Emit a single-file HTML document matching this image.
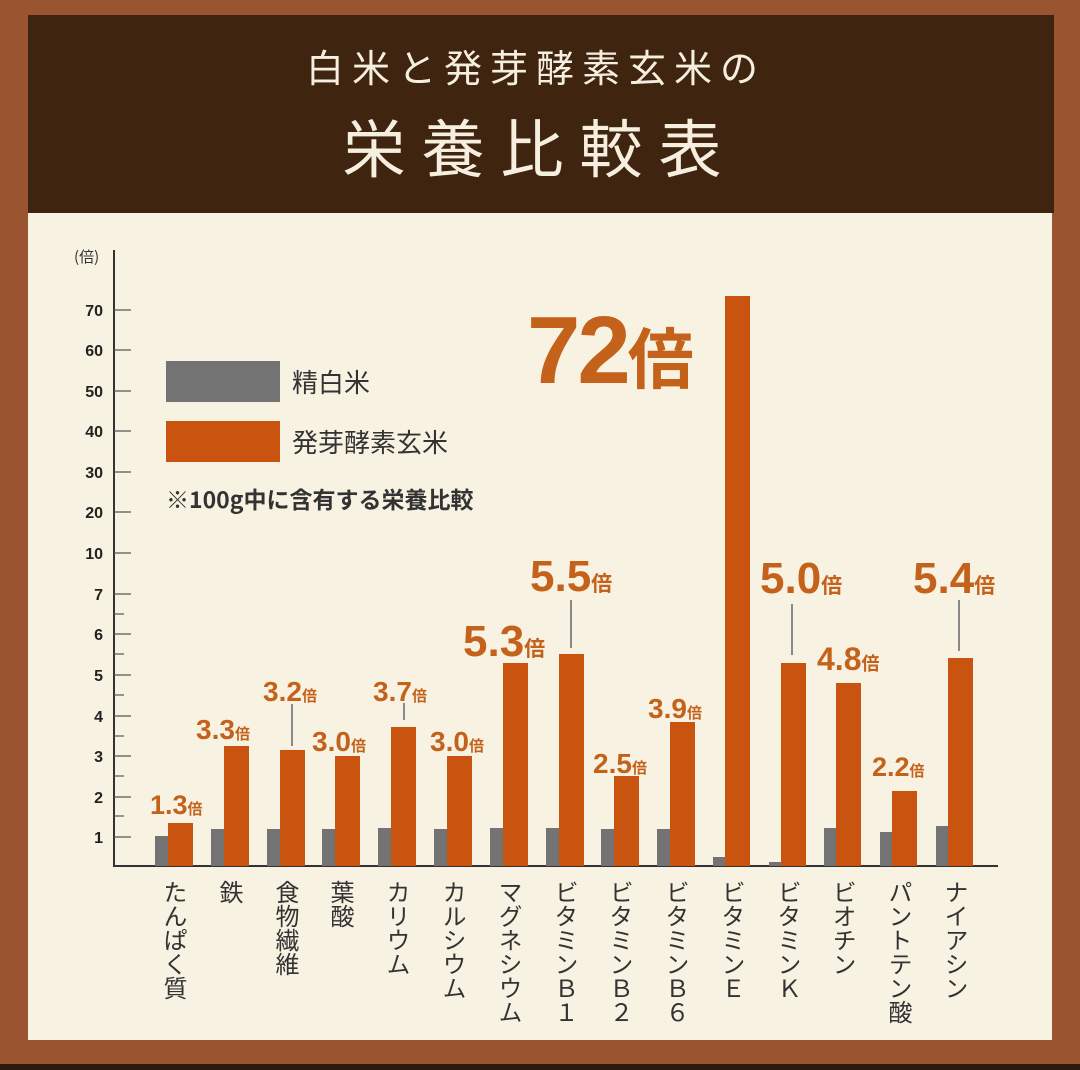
<!DOCTYPE html>
<html><head><meta charset="utf-8">
<style>
html,body{margin:0;padding:0;}
body{width:1080px;height:1070px;background:#9a5530;position:relative;overflow:hidden;font-family:"Liberation Sans","Noto Sans CJK JP",sans-serif;}
.hdr{position:absolute;left:28px;top:15px;width:1026px;height:198px;background:#3f2410;}
.panel{position:absolute;left:28px;top:213px;width:1024px;height:827px;background:#f8f2e2;}
.bot{position:absolute;left:0;top:1064px;width:1080px;height:6px;background:#2a1a10;}
.vl{position:absolute;top:880px;writing-mode:vertical-rl;font-family:"Noto Sans CJK JP",sans-serif;font-size:24px;line-height:24px;color:#333;width:24px;}
svg{position:absolute;left:0;top:0;}
</style></head><body>
<div class="hdr"></div>
<div class="panel"></div>
<div class="bot"></div>
<svg width="1080" height="1070" xmlns="http://www.w3.org/2000/svg">
<g font-family="Noto Sans CJK JP, sans-serif" fill="#f6efe0" text-anchor="middle">
<text x="536" y="82" font-size="38" letter-spacing="8">白米と発芽酵素玄米の</text>
<text x="540" y="172" font-size="63" letter-spacing="16">栄養比較表</text>
</g>
<g stroke="#333" stroke-width="2">
<line x1="114" y1="250" x2="114" y2="867"/>
<line x1="114" y1="866" x2="998" y2="866"/>
</g>
<g stroke="#555" stroke-width="1.2">
<line x1="114" y1="310" x2="131" y2="310"/><line x1="114" y1="350" x2="131" y2="350"/>
<line x1="114" y1="391" x2="131" y2="391"/><line x1="114" y1="431" x2="131" y2="431"/>
<line x1="114" y1="472" x2="131" y2="472"/><line x1="114" y1="512" x2="131" y2="512"/>
<line x1="114" y1="553" x2="131" y2="553"/><line x1="114" y1="594" x2="131" y2="594"/>
<line x1="114" y1="614" x2="124" y2="614"/>
<line x1="114" y1="634" x2="131" y2="634"/><line x1="114" y1="654" x2="124" y2="654"/>
<line x1="114" y1="675" x2="131" y2="675"/><line x1="114" y1="695" x2="124" y2="695"/>
<line x1="114" y1="716" x2="131" y2="716"/><line x1="114" y1="736" x2="124" y2="736"/>
<line x1="114" y1="756" x2="131" y2="756"/><line x1="114" y1="776" x2="124" y2="776"/>
<line x1="114" y1="797" x2="131" y2="797"/><line x1="114" y1="816" x2="124" y2="816"/>
<line x1="114" y1="837" x2="131" y2="837"/>
</g>
<g font-size="16" font-weight="bold" fill="#222" text-anchor="end">
<text x="103" y="316">70</text><text x="103" y="356">60</text><text x="103" y="397">50</text>
<text x="103" y="437">40</text><text x="103" y="478">30</text><text x="103" y="518">20</text>
<text x="103" y="559">10</text><text x="103" y="600">7</text><text x="103" y="640">6</text>
<text x="103" y="681">5</text><text x="103" y="722">4</text><text x="103" y="762">3</text>
<text x="103" y="803">2</text><text x="103" y="843">1</text>
</g>
<text x="74" y="262" font-size="15" fill="#333" font-family="Noto Sans CJK JP, sans-serif">(倍)</text>
<rect x="166" y="361" width="114" height="41" fill="#737373"/>
<rect x="166" y="421" width="114" height="41" fill="#c9540f"/>
<g font-family="Noto Sans CJK JP, sans-serif" fill="#333">
<text x="292" y="392" font-size="26">精白米</text>
<text x="292" y="452" font-size="26">発芽酵素玄米</text>
<text x="166" y="508" font-size="23" font-weight="bold">※100g中に含有する栄養比較</text>
</g>
<g fill="#737373">
<rect x="155" y="836" width="13" height="30"/>
<rect x="211" y="829" width="13" height="37"/>
<rect x="267" y="829" width="13" height="37"/>
<rect x="322" y="829" width="13" height="37"/>
<rect x="378" y="828" width="13" height="38"/>
<rect x="434" y="829" width="13" height="37"/>
<rect x="490" y="828" width="13" height="38"/>
<rect x="546" y="828" width="13" height="38"/>
<rect x="601" y="829" width="13" height="37"/>
<rect x="657" y="829" width="13" height="37"/>
<rect x="713" y="857" width="13" height="9"/>
<rect x="769" y="862" width="13" height="4"/>
<rect x="824" y="828" width="13" height="38"/>
<rect x="880" y="832" width="13" height="34"/>
<rect x="936" y="826" width="13" height="40"/>
</g>
<g fill="#c9540f">
<rect x="168" y="823" width="25" height="43"/>
<rect x="224" y="746" width="25" height="120"/>
<rect x="280" y="750" width="25" height="116"/>
<rect x="335" y="756" width="25" height="110"/>
<rect x="391" y="727" width="25" height="139"/>
<rect x="447" y="756" width="25" height="110"/>
<rect x="503" y="663" width="25" height="203"/>
<rect x="559" y="654" width="25" height="212"/>
<rect x="614" y="776" width="25" height="90"/>
<rect x="670" y="722" width="25" height="144"/>
<rect x="725" y="296" width="25" height="570"/>
<rect x="781" y="663" width="25" height="203"/>
<rect x="836" y="683" width="25" height="183"/>
<rect x="892" y="791" width="25" height="75"/>
<rect x="948" y="658" width="25" height="208"/>
</g>
<g stroke="#666" stroke-width="1.5">
<line x1="292" y1="704" x2="292" y2="746"/>
<line x1="404" y1="703" x2="404" y2="720"/>
<line x1="571" y1="600" x2="571" y2="648"/>
<line x1="792" y1="604" x2="792" y2="655"/>
<line x1="959" y1="600" x2="959" y2="651"/>
</g>
<g fill="#c4621c" font-weight="bold">
<text x="150" y="814" font-size="27">1.3<tspan font-size="15" font-family="Noto Sans CJK JP, sans-serif">倍</tspan></text>
<text x="196" y="739" font-size="28">3.3<tspan font-size="15" font-family="Noto Sans CJK JP, sans-serif">倍</tspan></text>
<text x="263" y="701" font-size="28">3.2<tspan font-size="15" font-family="Noto Sans CJK JP, sans-serif">倍</tspan></text>
<text x="312" y="751" font-size="28">3.0<tspan font-size="15" font-family="Noto Sans CJK JP, sans-serif">倍</tspan></text>
<text x="373" y="701" font-size="28">3.7<tspan font-size="15" font-family="Noto Sans CJK JP, sans-serif">倍</tspan></text>
<text x="430" y="751" font-size="28">3.0<tspan font-size="15" font-family="Noto Sans CJK JP, sans-serif">倍</tspan></text>
<text x="463" y="656" font-size="44">5.3<tspan font-size="21" font-family="Noto Sans CJK JP, sans-serif">倍</tspan></text>
<text x="530" y="591" font-size="44">5.5<tspan font-size="21" font-family="Noto Sans CJK JP, sans-serif">倍</tspan></text>
<text x="593" y="773" font-size="28">2.5<tspan font-size="15" font-family="Noto Sans CJK JP, sans-serif">倍</tspan></text>
<text x="648" y="718" font-size="28">3.9<tspan font-size="15" font-family="Noto Sans CJK JP, sans-serif">倍</tspan></text>
<text x="760" y="593" font-size="44">5.0<tspan font-size="21" font-family="Noto Sans CJK JP, sans-serif">倍</tspan></text>
<text x="817" y="670" font-size="32">4.8<tspan font-size="18" font-family="Noto Sans CJK JP, sans-serif">倍</tspan></text>
<text x="872" y="776" font-size="27">2.2<tspan font-size="15" font-family="Noto Sans CJK JP, sans-serif">倍</tspan></text>
<text x="913" y="593" font-size="44">5.4<tspan font-size="21" font-family="Noto Sans CJK JP, sans-serif">倍</tspan></text>
<text x="527" y="383" font-size="96" letter-spacing="-3">72<tspan font-size="66" font-family="Noto Sans CJK JP, sans-serif">倍</tspan></text>
</g>
</svg>
<div class="vl" style="left:163px">たんぱく質</div>
<div class="vl" style="left:219px">鉄</div>
<div class="vl" style="left:275px">食物繊維</div>
<div class="vl" style="left:330px">葉酸</div>
<div class="vl" style="left:386px">カリウム</div>
<div class="vl" style="left:442px">カルシウム</div>
<div class="vl" style="left:498px">マグネシウム</div>
<div class="vl" style="left:554px">ビタミンＢ１</div>
<div class="vl" style="left:609px">ビタミンＢ２</div>
<div class="vl" style="left:665px">ビタミンＢ６</div>
<div class="vl" style="left:721px">ビタミンＥ</div>
<div class="vl" style="left:777px">ビタミンＫ</div>
<div class="vl" style="left:832px">ビオチン</div>
<div class="vl" style="left:888px">パントテン酸</div>
<div class="vl" style="left:944px">ナイアシン</div>
</body></html>
